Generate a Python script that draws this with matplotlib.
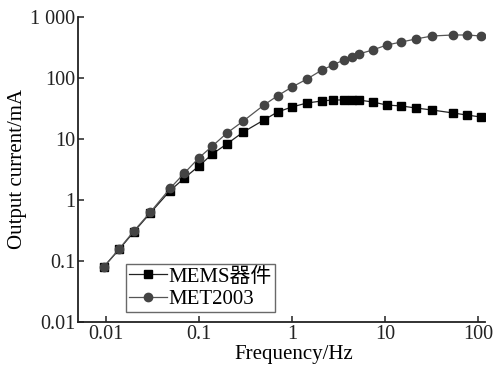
import matplotlib
matplotlib.use('Agg')
import matplotlib.pyplot as plt
from matplotlib.ticker import FixedLocator, FixedFormatter, NullLocator

plt.rcParams['font.family'] = ['Liberation Serif', 'Noto Sans CJK SC']

freq = [0.0095, 0.014, 0.02, 0.03, 0.049, 0.07, 0.1, 0.14, 0.2, 0.3, 0.5, 0.7,
        1.0, 1.45, 2.1, 2.75, 3.6, 4.4, 5.2, 7.4, 10.5, 15, 21.5, 32, 54, 76, 108]
mems = [0.080, 0.157, 0.30, 0.61, 1.42, 2.3, 3.6, 5.7, 8.3, 13.0, 20.5, 27.7,
        33.5, 38.9, 42, 43.6, 43.6, 43.6, 43.6, 40.4, 36, 34.8, 32.2, 29.9, 26.7, 24.7, 22.9]
met = [0.080, 0.16, 0.31, 0.63, 1.55, 2.77, 4.9, 7.7, 12.5, 19.7, 36, 51,
       71, 96, 135, 163, 197, 221, 247, 288, 348, 389, 436, 488, 507, 507, 488]

xticks = [0.01, 0.1, 1, 10, 100]
xticklabels = ['0.01', '0.1', '1', '10', '100']
yticks = [0.01, 0.1, 1, 10, 100, 1000]
yticklabels = ['0.01', '0.1', '1', '10', '100', '1 000']

fig = plt.figure(figsize=(4.99, 3.67), dpi=100)
ax = fig.add_axes([0.156, 0.1226, 0.816, 0.8311])

ax.plot(freq, mems, color='#222222', lw=0.9, marker='s', ms=5.5,
        mfc='black', mec='black', label='MEMS器件')
ax.plot(freq, met, color='#555555', lw=0.9, marker='o', ms=6,
        mfc='#444444', mec='#444444', label='MET2003')

ax.set_xscale('log')
ax.set_yscale('log')
ax.set_xlim(0.005, 119)
ax.set_ylim(0.01, 1000)

ax.xaxis.set_major_locator(FixedLocator(xticks))
ax.xaxis.set_major_formatter(FixedFormatter(xticklabels))
ax.xaxis.set_minor_locator(NullLocator())
ax.yaxis.set_major_locator(FixedLocator(yticks))
ax.yaxis.set_major_formatter(FixedFormatter(yticklabels))
ax.yaxis.set_minor_locator(NullLocator())

ax.spines['top'].set_visible(False)
ax.spines['right'].set_visible(False)
for s in ['left', 'bottom']:
    ax.spines[s].set_linewidth(1.3)
    ax.spines[s].set_color('#222222')
ax.tick_params(direction='in', length=4, width=1.1, labelsize=14.5, pad=2,
               colors='#222222')

ax.set_xlabel('Frequency/Hz', fontsize=15, labelpad=0)
ax.xaxis.set_label_coords(0.53, -0.075)
ax.set_ylabel('Output current/mA', fontsize=15, labelpad=2)

leg = ax.legend(loc='lower left', bbox_to_anchor=(0.118, 0.033), fontsize=15,
                frameon=True, fancybox=False, handlelength=1.8,
                borderpad=0.15, labelspacing=0.12, handletextpad=0.1,
                borderaxespad=0)
leg.get_frame().set_edgecolor('#444444')
leg.get_frame().set_linewidth(1.0)

plt.savefig('out.png', dpi=100, facecolor='white')
